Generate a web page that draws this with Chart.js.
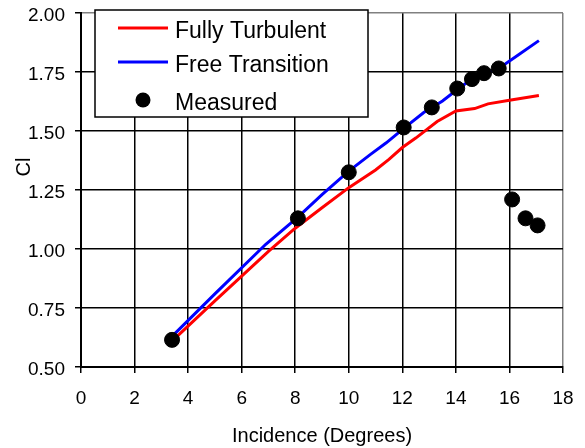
<!DOCTYPE html>
<html>
<head>
<meta charset="utf-8">
<script src="https://cdn.jsdelivr.net/npm/chart.js@4/dist/chart.umd.min.js"></script>
<style>
  html, body { margin: 0; padding: 0; background: #fff; }
</style>
</head>
<body>
<canvas id="myChart" width="585" height="448"></canvas>
<script>
const FONT = "'Liberation Sans', Arial, sans-serif";

// tick labels
const xTicks = [0, 2, 4, 6, 8, 10, 12, 14, 16, 18];
const yTicks = [0.5, 0.75, 1.0, 1.25, 1.5, 1.75, 2.0];

// Fully Turbulent (red)
const turbX = [3.4, 5, 7, 8, 9, 10, 11, 11.5, 12, 12.5, 13.3, 14, 14.7, 15.2, 16, 17.1];
const turbY = [0.61, 0.78, 0.99, 1.088, 1.175, 1.26, 1.335, 1.38, 1.43, 1.47, 1.54, 1.585, 1.595, 1.615, 1.63, 1.65];

// Free Transition (blue)
const freeX = [3.4, 5, 6.9, 8.1, 9, 10, 10.8, 11.4, 12.1, 12.8, 13.5, 14.1, 14.6, 15.1, 15.6, 16.3, 17.1];
const freeY = [0.63, 0.81, 1.02, 1.135, 1.23, 1.33, 1.40, 1.45, 1.515, 1.578, 1.627, 1.68, 1.72, 1.745, 1.765, 1.82, 1.883];

// Measured (black dots)
const measX = [3.4, 8.1, 10.0, 12.05, 13.1, 14.05, 14.6, 15.05, 15.6, 16.1, 16.6, 17.05];
const measY = [0.615, 1.13, 1.325, 1.515, 1.60, 1.68, 1.72, 1.745, 1.765, 1.21, 1.13, 1.10];

function pts(xs, ys) {
  return xs.map((x, i) => ({ x: x, y: ys[i] }));
}

// legend in a white box inside the plot
const legendBox = {
  id: 'legendBox',
  afterDraw(chart) {
    const { ctx, chartArea } = chart;
    const x = chartArea.left + 14, y = chartArea.top - 3, w = 273, h = 107;
    const rows = [18, 52, 90];
    ctx.save();
    ctx.fillStyle = '#fff';
    ctx.fillRect(x, y, w, h);
    ctx.strokeStyle = '#000';
    ctx.lineWidth = 1.5;
    ctx.strokeRect(x, y, w, h);
    ctx.font = '23px ' + FONT;
    ctx.textBaseline = 'middle';
    chart.data.datasets.forEach((ds, i) => {
      const cy = y + rows[i];
      if (ds.showLine === false) {
        ctx.fillStyle = '#000';
        ctx.beginPath();
        ctx.arc(x + 48, cy, 7.5, 0, Math.PI * 2);
        ctx.fill();
      } else {
        ctx.strokeStyle = ds.borderColor;
        ctx.lineWidth = 3;
        ctx.beginPath();
        ctx.moveTo(x + 23, cy);
        ctx.lineTo(x + 73, cy);
        ctx.stroke();
      }
      ctx.fillStyle = '#000';
      ctx.fillText(ds.label, x + 80, cy + 4);
    });
    ctx.restore();
  }
};

// y axis title, sits above centre like the original
const yTitle = {
  id: 'yTitle',
  afterDraw(chart) {
    const { ctx, chartArea } = chart;
    ctx.save();
    ctx.translate(chartArea.left - 57, chartArea.top + 154);
    ctx.rotate(-Math.PI / 2);
    ctx.font = '20px ' + FONT;
    ctx.fillStyle = '#000';
    ctx.textAlign = 'center';
    ctx.textBaseline = 'middle';
    ctx.fillText('Cl', 0, 0);
    ctx.restore();
  }
};

new Chart(document.getElementById('myChart'), {
  type: 'line',
  data: {
    datasets: [
      {
        label: 'Fully Turbulent',
        data: pts(turbX, turbY),
        borderColor: '#ff0000',
        backgroundColor: '#ff0000',
        borderWidth: 3,
        pointRadius: 0,
        fill: false,
        tension: 0,
        order: 2
      },
      {
        label: 'Free Transition',
        data: pts(freeX, freeY),
        borderColor: '#0000ff',
        backgroundColor: '#0000ff',
        borderWidth: 3,
        pointRadius: 0,
        fill: false,
        tension: 0,
        order: 1
      },
      {
        label: 'Measured',
        data: pts(measX, measY),
        showLine: false,
        borderColor: '#000',
        backgroundColor: '#000',
        pointBackgroundColor: '#000',
        pointBorderColor: '#000',
        pointRadius: 7.5,
        pointHoverRadius: 7.5,
        order: 0
      }
    ]
  },
  options: {
    responsive: false,
    animation: false,
    layout: { padding: { top: 13, right: 22, bottom: 0, left: 0 } },
    plugins: {
      legend: { display: false },
      tooltip: { enabled: false }
    },
    scales: {
      x: {
        type: 'linear',
        min: 0,
        max: 18,
        afterBuildTicks: s => { s.ticks = xTicks.map(v => ({ value: v })); },
        afterFit: s => { s.height = 81; s.paddingLeft = 0; s.paddingRight = 0; },
        grid: {
          color: c => (c.tick && c.tick.value === 18) ? '#808080' : '#000',
          tickColor: '#000',
          lineWidth: 1.5,
          tickLength: 6
        },
        border: { color: '#000', width: 2 },
        ticks: {
          color: '#000',
          font: { family: FONT, size: 19 },
          padding: 14,
          maxRotation: 0,
          autoSkip: false,
          callback: v => v
        },
        title: {
          display: true,
          text: 'Incidence (Degrees)',
          color: '#000',
          font: { family: FONT, size: 20 },
          padding: { top: 4, bottom: 0 }
        }
      },
      y: {
        type: 'linear',
        min: 0.5,
        max: 2.0,
        afterBuildTicks: s => { s.ticks = yTicks.map(v => ({ value: v })); },
        afterFit: s => { s.width = 81; s.paddingTop = 0; s.paddingBottom = 0; },
        grid: {
          color: c => (c.tick && c.tick.value === 2) ? '#808080' : '#000',
          tickColor: '#000',
          lineWidth: 1.5,
          tickLength: 6
        },
        border: { color: '#000', width: 2 },
        ticks: {
          color: '#000',
          font: { family: FONT, size: 19 },
          padding: 10,
          labelOffset: 3,
          autoSkip: false,
          callback: v => Number(v).toFixed(2)
        }
      }
    }
  },
  plugins: [legendBox, yTitle]
});
</script>
</body>
</html>
